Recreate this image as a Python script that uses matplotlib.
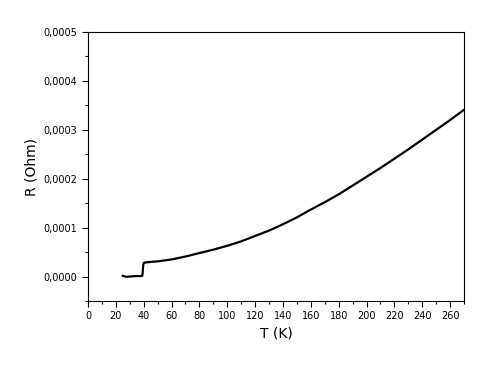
import numpy as np
import matplotlib
matplotlib.use('Agg')
import matplotlib.pyplot as plt
from matplotlib.ticker import MultipleLocator, FuncFormatter

# Temperature (K) and resistance (Ohm)
temp = [25, 26, 28, 30, 32, 34, 36, 38, 39, 39.3, 39.6, 40, 42, 45, 50, 55, 60,
        70, 80, 90, 100, 110, 120, 130, 140, 150, 160, 170, 180, 190, 200,
        210, 220, 230, 240, 250, 260, 270]
res = [0.0000015, 0.0000005, -0.0000005, 0.0000000, 0.0000005, 0.0000010, 0.0000010,
       0.0000010, 0.0000015, 0.000010, 0.000022, 0.000028, 0.000029, 0.000030,
       0.000031, 0.000033, 0.000035, 0.000041, 0.000048, 0.000055, 0.000063,
       0.000072, 0.000083, 0.000094, 0.000107, 0.000121, 0.000137, 0.000152,
       0.000168, 0.000186, 0.000204, 0.000222, 0.000241, 0.000260, 0.000280,
       0.000300, 0.000320, 0.000341]

fig = plt.figure(figsize=(4.87, 3.65), dpi=100)
ax = fig.add_axes([0.1807, 0.1753, 0.7721, 0.737])
ax.plot(temp, res, color='black', linewidth=1.6)

ax.set_xlim(0, 270)
ax.set_ylim(-0.00005, 0.0005)
ax.xaxis.set_major_locator(MultipleLocator(20))
ax.xaxis.set_minor_locator(MultipleLocator(10))
ax.yaxis.set_major_locator(MultipleLocator(0.0001))
ax.yaxis.set_minor_locator(MultipleLocator(0.00005))
ax.yaxis.set_major_formatter(FuncFormatter(lambda v, p: f"{v:.4f}".replace('.', ',').replace('-0,0000', '0,0000')))
ax.tick_params(which='both', direction='out', labelsize=7, width=0.8)
ax.tick_params(which='major', length=4)
ax.tick_params(which='minor', length=2.5)
for s in ax.spines.values():
    s.set_linewidth(0.8)

ax.set_xlabel('T (K)', fontsize=10)
ax.set_ylabel('R (Ohm)', fontsize=10)

fig.savefig('out.png', dpi=100)
